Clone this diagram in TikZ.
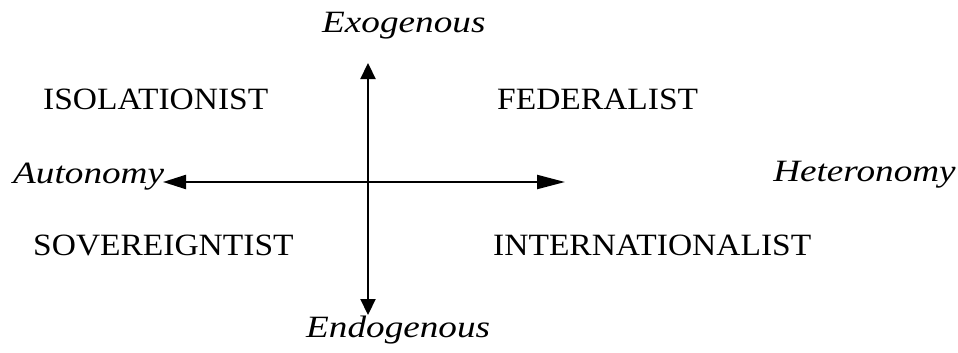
\documentclass[tikz,border=0pt]{standalone}
\usepackage{fontspec}
\setmainfont{Liberation Serif}
\usetikzlibrary{arrows.meta}
\tikzset{
  quad/.style={font=\fontsize{31}{36}\selectfont, inner sep=0pt, anchor=base west, xscale=1.08, transform shape},
  axislabel/.style={font=\fontsize{31}{36}\selectfont\itshape, inner sep=0pt, anchor=base west, xscale=1.2, transform shape},
  haxis/.style={line width=2.2pt, {Triangle[length=23pt,width=14pt]}-{Triangle[length=28pt,width=14pt]}},
  vaxis/.style={line width=2.2pt, {Triangle[length=16pt,width=15pt]}-{Triangle[length=16pt,width=15pt]}}
}
\begin{document}
\begin{tikzpicture}[x=1pt,y=-1pt]
\useasboundingbox (0,0) rectangle (958,353);
\coordinate (L) at (163,182);
\coordinate (R) at (565,182);
\coordinate (T) at (368,63);
\coordinate (B) at (368,315);
\draw[haxis] (L) -- (R);
\draw[vaxis] (B) -- (T);
\node[axislabel] (exo) at (322,33) {Exogenous};
\node[axislabel] (endo) at (306,337) {Endogenous};
\node[axislabel] (auto) at (13,183) {Autonomy};
\node[axislabel] (hetero) at (773,181) {Heteronomy};
\node[quad] (iso) at (43,109) {ISOLATIONIST};
\node[quad] (fed) at (497,109) {FEDERALIST};
\node[quad] (sov) at (33,255) {SOVEREIGNTIST};
\node[quad] (int) at (493,255) {INTERNATIONALIST};
\end{tikzpicture}
\end{document}
